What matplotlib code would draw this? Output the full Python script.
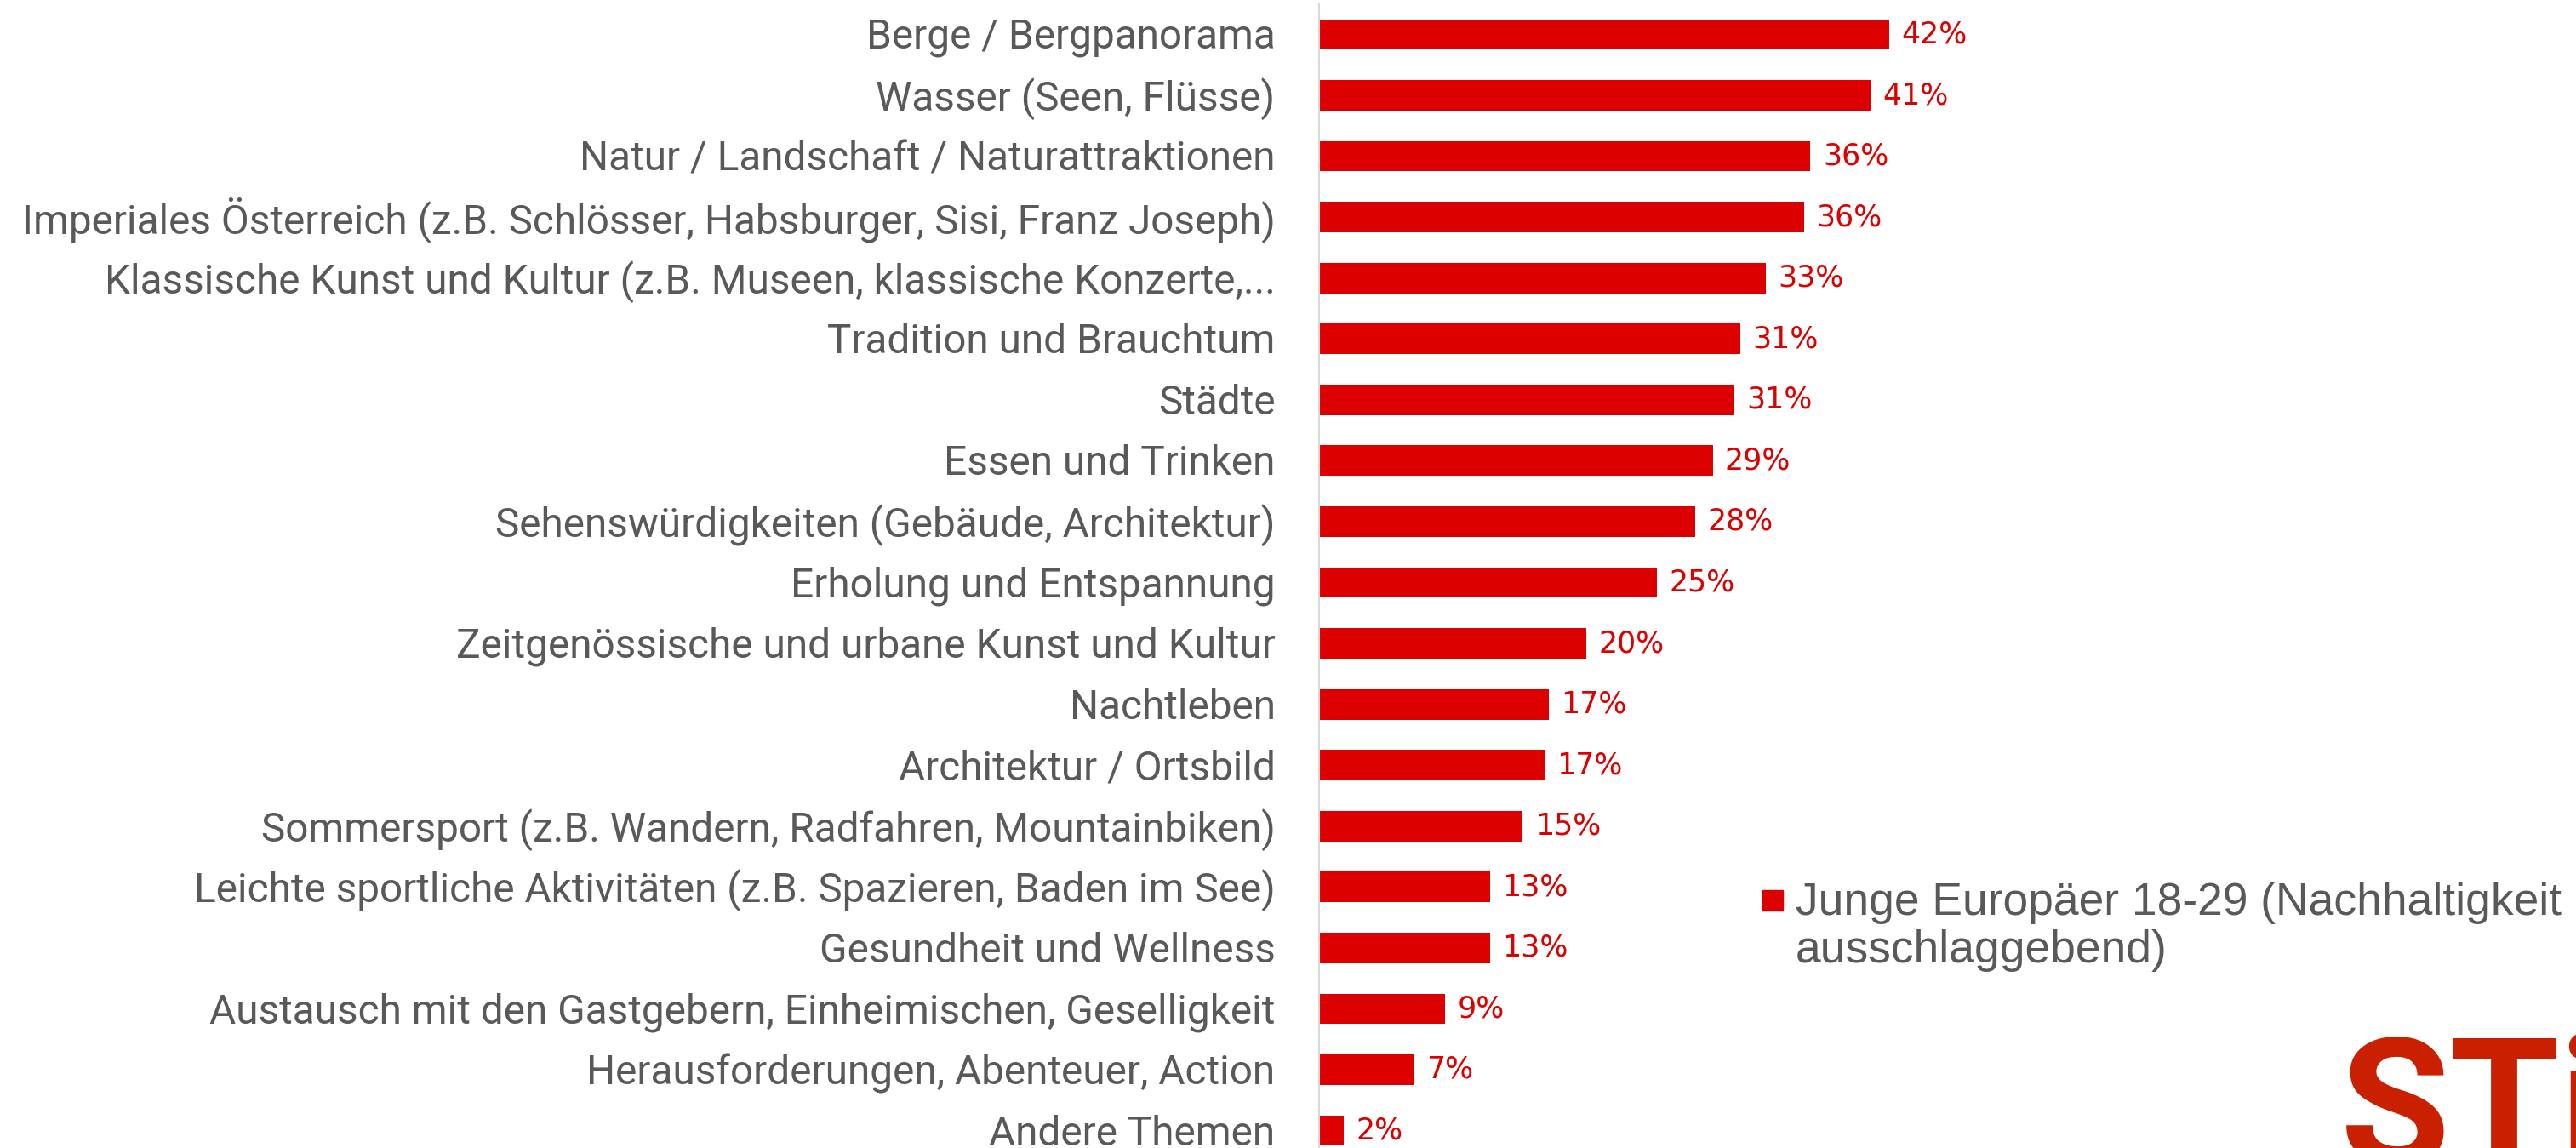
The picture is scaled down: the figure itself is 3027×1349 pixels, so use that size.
import matplotlib
matplotlib.use("Agg")
import matplotlib.pyplot as plt
import matplotlib.patches as patches
import matplotlib.transforms as mtransforms

# data, top to bottom
categories = [
    "Berge / Bergpanorama",
    "Wasser (Seen, Flüsse)",
    "Natur / Landschaft / Naturattraktionen",
    "Imperiales Österreich (z.B. Schlösser, Habsburger, Sisi, Franz Joseph)",
    "Klassische Kunst und Kultur (z.B. Museen, klassische Konzerte,...",
    "Tradition und Brauchtum",
    "Städte",
    "Essen und Trinken",
    "Sehenswürdigkeiten (Gebäude, Architektur)",
    "Erholung und Entspannung",
    "Zeitgenössische und urbane Kunst und Kultur",
    "Nachtleben",
    "Architektur / Ortsbild",
    "Sommersport (z.B. Wandern, Radfahren, Mountainbiken)",
    "Leichte sportliche Aktivitäten (z.B. Spazieren, Baden im See)",
    "Gesundheit und Wellness",
    "Austausch mit den Gastgebern, Einheimischen, Geselligkeit",
    "Herausforderungen, Abenteuer, Action",
    "Andere Themen",
]
values = [42.0, 40.6, 36.2, 35.7, 32.9, 31.0, 30.6, 29.0, 27.7, 24.9,
          19.7, 16.9, 16.6, 15.0, 12.6, 12.6, 9.3, 7.0, 1.8]
series_name = "Junge Europäer 18-29 (Nachhaltigkeit\nausschlaggebend)"

RED = "#DC0000"
GREY = "#595959"
W, H = 3027, 1349

fig = plt.figure(figsize=(W / 100, H / 100), dpi=100)
fig.patch.set_facecolor("white")

# axes placed in pixel terms: axis line at x=1550, 42% ends at x=2220
left = 1550 / W
right = 2220 / W
top = 1 - 4.7 / H
bottom = 1 - 1364.3 / H
ax = fig.add_axes([left, bottom, right - left, top - bottom])

y = list(range(len(categories)))
ax.barh(y, values, height=0.5, color=RED)
ax.set_xlim(0, 42)
ax.set_ylim(18.5, -0.5)

for yi, v in zip(y, values):
    ax.text(v + 0.9, yi, f"{v:.0f}%", va="center", ha="left",
            color=RED, fontsize=25, family="DejaVu Sans", clip_on=False)

ax.set_yticks(y)
ax.set_yticklabels(categories, fontsize=34.4, color=GREY, family="Roboto",
                   va="center")
ax.tick_params(axis="y", length=0, pad=37)
shift = mtransforms.ScaledTranslation(0, -4 / 100, fig.dpi_scale_trans)
for lab in ax.get_yticklabels():
    lab.set_transform(lab.get_transform() + shift)
ax.set_xticks([])
for s in ["top", "right", "bottom"]:
    ax.spines[s].set_visible(False)
ax.spines["left"].set_color("#D9D9D9")
ax.spines["left"].set_linewidth(1.5)

# legend (manual)
fig.patches.append(patches.Rectangle((2071 / W, 1 - 1070 / H), 24 / W, 24 / H,
                                     transform=fig.transFigure, color=RED))
fig.text(2110 / W, 1 - 1089 / H, series_name, ha="left", va="center",
         fontsize=38.4, color=GREY, family="Liberation Sans", linespacing=1.15)

# logo, cut off at the bottom right
fig.text(2750 / W, 1 - 1369 / H, "STi", ha="left", va="baseline",
         fontsize=151, color="#C82000", family="Roboto", fontweight="bold")

fig.savefig("out.png", dpi=100)
